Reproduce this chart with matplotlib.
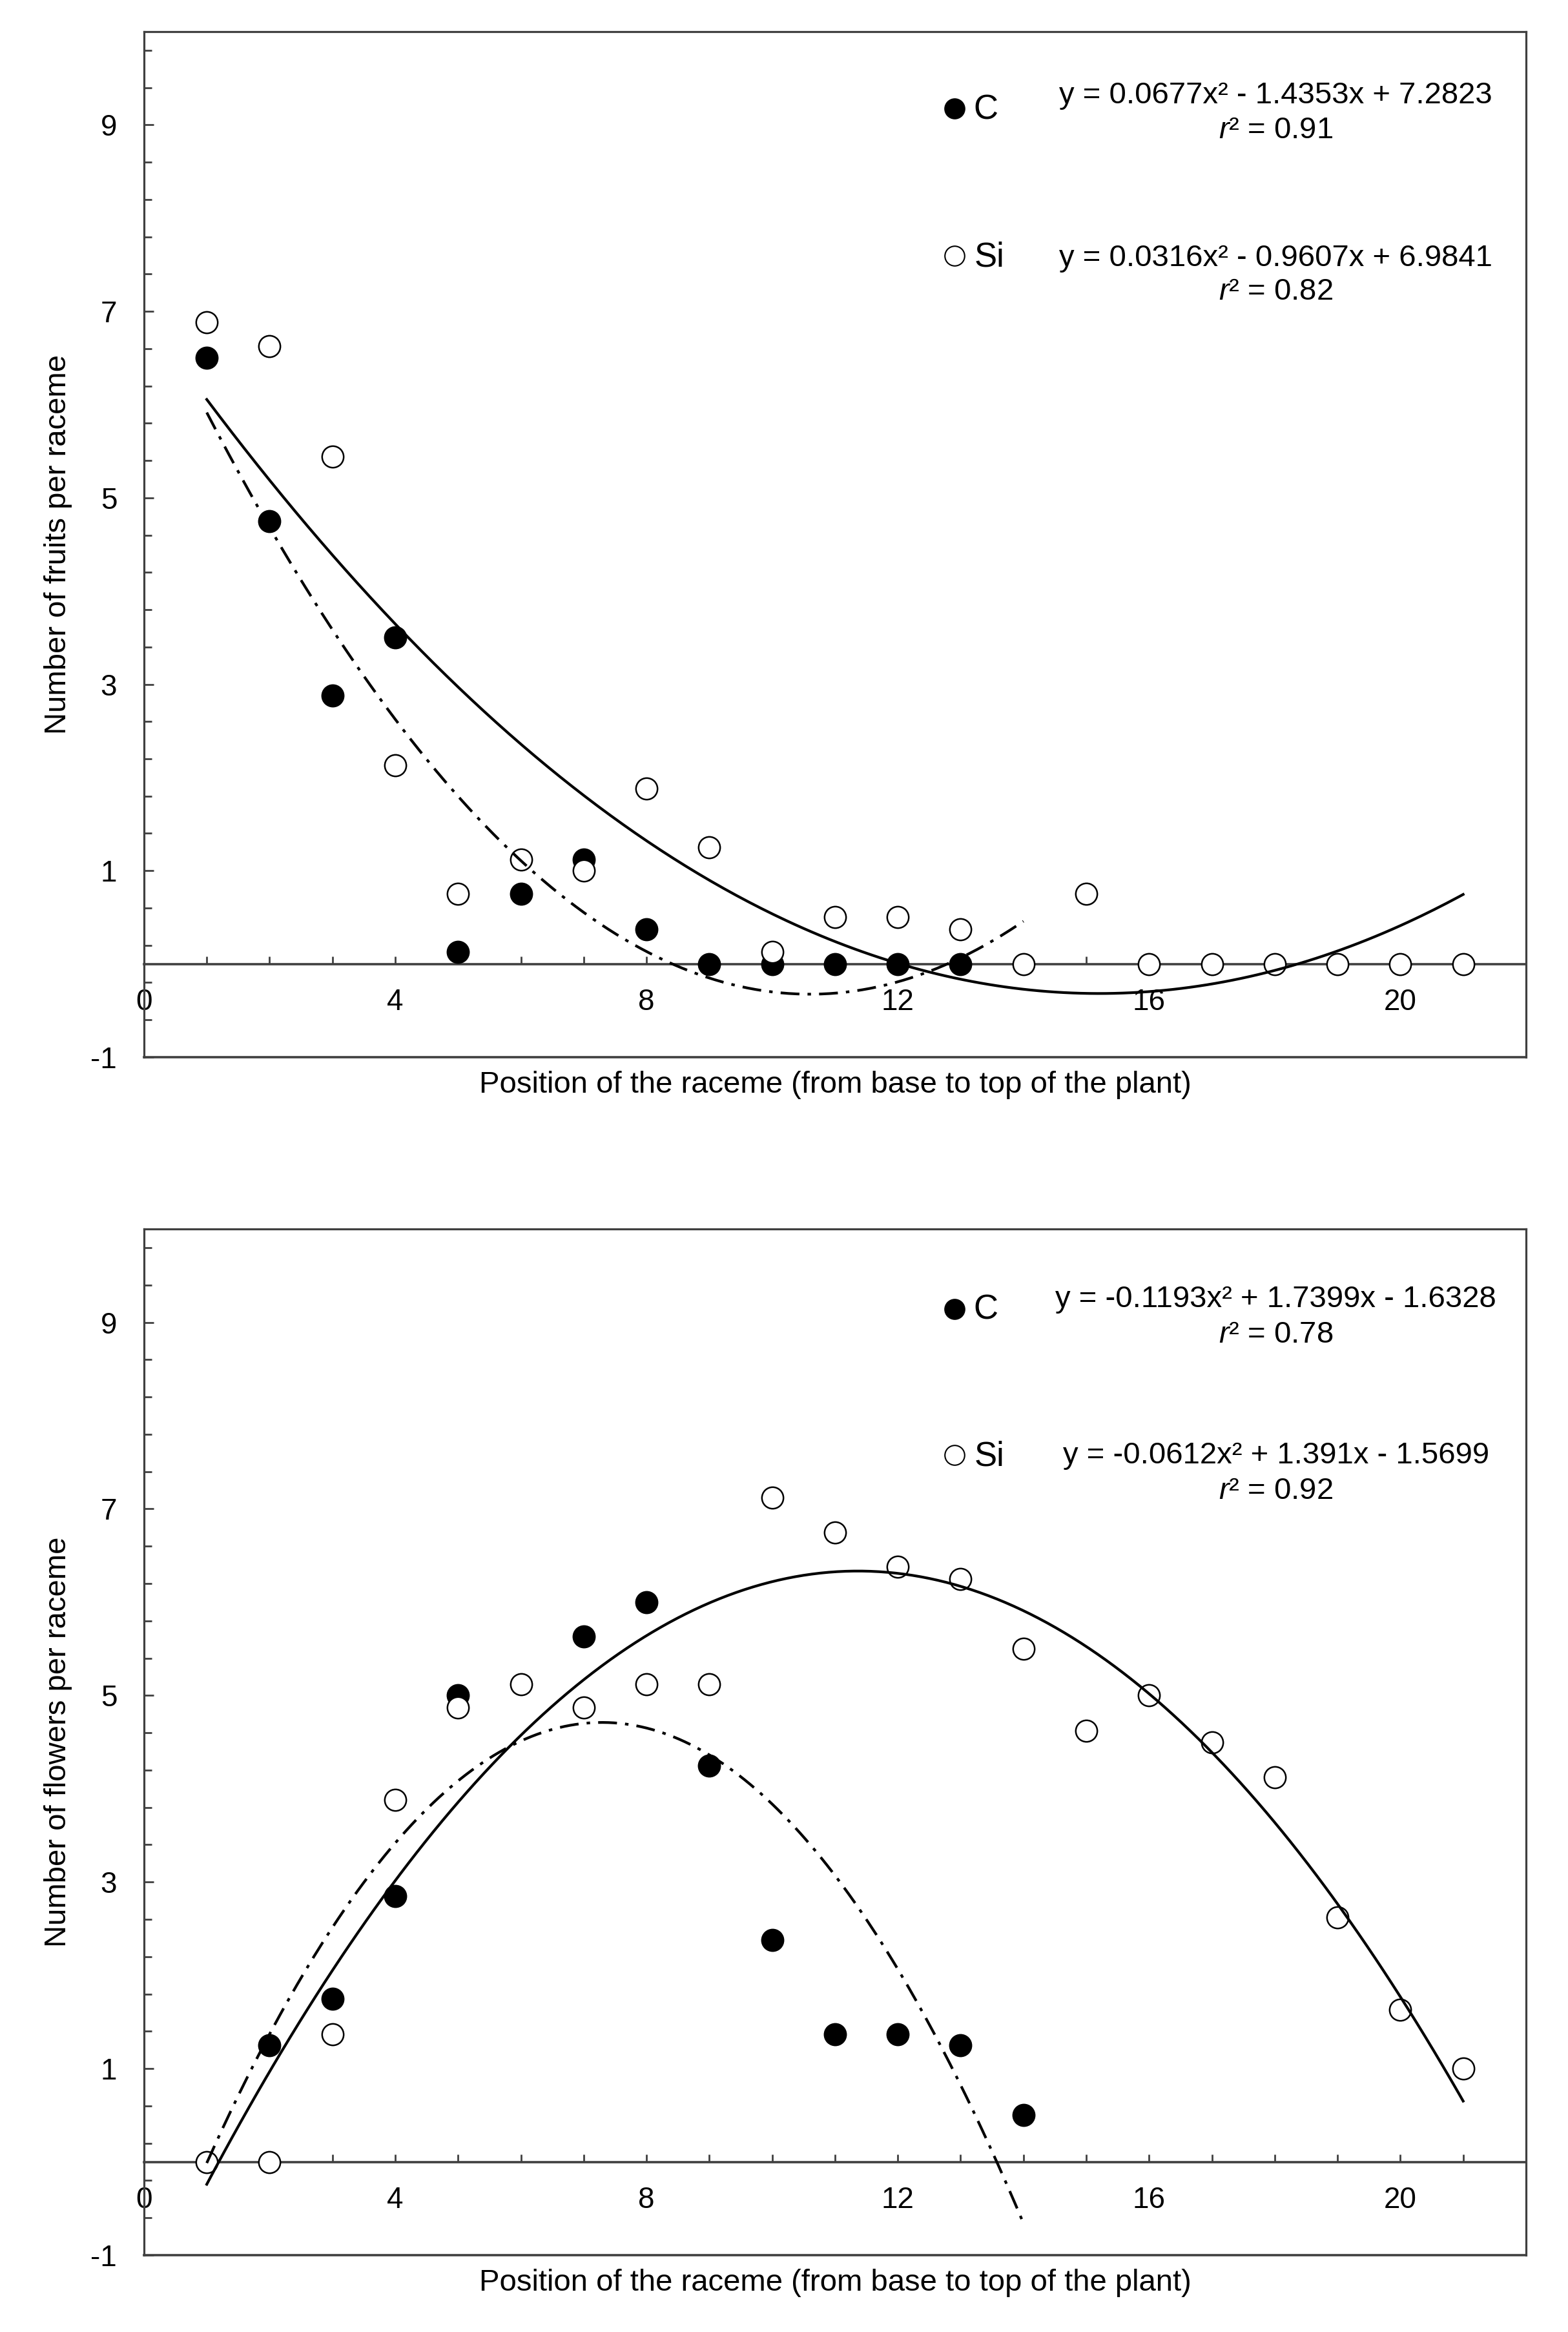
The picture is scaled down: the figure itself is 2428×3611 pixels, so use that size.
import numpy as np
import matplotlib
matplotlib.use("Agg")
import matplotlib.pyplot as plt
from matplotlib.ticker import FixedLocator, NullFormatter

plt.rcParams['font.family'] = ['Liberation Sans', 'DejaVu Sans']
plt.rcParams['mathtext.fontset'] = 'custom'
plt.rcParams['mathtext.rm'] = 'Liberation Sans'
plt.rcParams['mathtext.it'] = 'Liberation Sans:italic'
plt.rcParams['axes.unicode_minus'] = False

# ---------------- data ----------------
# Panel A: number of fruits per raceme
fruits_c_x = [1, 2, 3, 4, 5, 6, 7, 8, 9, 10, 11, 12, 13]
fruits_c_y = [6.5, 4.75, 2.88, 3.5, 0.13, 0.75, 1.12, 0.37, 0, 0, 0, 0, 0]
fruits_si_x = list(range(1, 22))
fruits_si_y = [6.88, 6.63, 5.44, 2.13, 0.75, 1.12, 1.0, 1.88, 1.25, 0.13,
               0.5, 0.5, 0.37, 0, 0.75, 0, 0, 0, 0, 0, 0]
fruits_c_coef = [0.0677, -1.4353, 7.2823]
fruits_si_coef = [0.0316, -0.9607, 6.9841]
fruits_c_eq = ["y = 0.0677x\u00b2 - 1.4353x + 7.2823", "$r$\u00b2 = 0.91"]
fruits_si_eq = ["y = 0.0316x\u00b2 - 0.9607x + 6.9841", "$r$\u00b2 = 0.82"]

# Panel B: number of flowers per raceme
flowers_c_x = [2, 3, 4, 5, 7, 8, 9, 10, 11, 12, 13, 14]
flowers_c_y = [1.25, 1.75, 2.85, 5.0, 5.63, 6.0, 4.25, 2.38, 1.37, 1.37, 1.25, 0.5]
flowers_si_x = list(range(1, 22))
flowers_si_y = [0, 0, 1.37, 3.88, 4.87, 5.12, 4.87, 5.12, 5.12, 7.12,
                6.75, 6.38, 6.25, 5.5, 4.62, 5.0, 4.5, 4.12, 2.62, 1.63, 1.0]
flowers_c_coef = [-0.1193, 1.7399, -1.6328]
flowers_si_coef = [-0.0612, 1.391, -1.5699]
flowers_c_eq = ["y = -0.1193x\u00b2 + 1.7399x - 1.6328", "$r$\u00b2 = 0.78"]
flowers_si_eq = ["y = -0.0612x\u00b2 + 1.391x - 1.5699", "$r$\u00b2 = 0.92"]

c_fit_range = (1, 14)
si_fit_range = (1, 21)

x_label = "Position of the raceme (from base to top of the plant)"
y_labels = ["Number of fruits per raceme", "Number of flowers per raceme"]
y_major = [-1, 1, 3, 5, 7, 9]
x_major = [0, 4, 8, 12, 16, 20]

# ---------------- style ----------------
FS = 33
EQ_FS = 34
SPINE = '#404040'
SPINE_LW = 2.3
MS = 24
fig = plt.figure(figsize=(24.28, 36.11), dpi=100)

axA = fig.add_axes([0.0918, 0.5467, 0.8814, 0.4397])
axB = fig.add_axes([0.0918, 0.03295, 0.8814, 0.4400])

panels = [
    (axA, fruits_c_x, fruits_c_y, fruits_si_x, fruits_si_y, fruits_c_coef, fruits_si_coef,
     fruits_c_eq, fruits_si_eq, y_labels[0],
     dict(c1=0.9301, c2=0.8961, s1=0.7714, s2=0.7387, cm=0.925, ct=0.915, sm=0.7815, st=0.7714)),
    (axB, flowers_c_x, flowers_c_y, flowers_si_x, flowers_si_y, flowers_c_coef, flowers_si_coef,
     flowers_c_eq, flowers_si_eq, y_labels[1],
     dict(c1=0.9239, c2=0.8892, s1=0.7716, s2=0.7369, cm=0.922, ct=0.912, sm=0.7797, st=0.7694)),
]

for ax, cx, cy, sx, sy, ccoef, scoef, ceq, seq, ylab, pos in panels:
    ax.set_xlim(0, 22)
    ax.set_ylim(-1, 10)

    # spines: move bottom axis to y = 0, keep the frame with a line at y = -1
    ax.spines['bottom'].set_position(('data', 0))
    for s in ax.spines.values():
        s.set_color(SPINE)
        s.set_linewidth(SPINE_LW)
    ax.spines['bottom'].set_linewidth(SPINE_LW + 0.3)
    ax.axhline(-1, color=SPINE, lw=SPINE_LW + 0.3, clip_on=False, zorder=2.5)

    ax.xaxis.set_major_locator(FixedLocator(x_major))
    ax.xaxis.set_minor_locator(FixedLocator(range(0, 23)))
    ax.yaxis.set_major_locator(FixedLocator(y_major))
    ax.yaxis.set_minor_locator(FixedLocator(np.round(np.arange(-1, 10.01, 0.4), 2)))
    ax.yaxis.set_minor_formatter(NullFormatter())
    ax.xaxis.set_minor_formatter(NullFormatter())
    ax.tick_params(axis='x', which='both', direction='in', length=9, width=2,
                   color=SPINE, labelsize=FS, pad=27, top=False)
    ax.tick_params(axis='y', which='major', direction='in', length=11, width=2,
                   color=SPINE, labelsize=FS, pad=30, right=False)
    ax.tick_params(axis='y', which='minor', direction='in', length=8.5, width=2,
                   color=SPINE, right=False)

    # data points
    ax.plot(cx, cy, linestyle='none', marker='o', ms=MS, mfc='black', mec='black',
            mew=1.8, zorder=3, clip_on=False)
    ax.plot(sx, sy, linestyle='none', marker='o', ms=MS, mfc='white', mec='black',
            mew=1.8, zorder=3.5, clip_on=False)

    # trend lines from the printed equations
    xc = np.linspace(c_fit_range[0], c_fit_range[1], 300)
    xs = np.linspace(si_fit_range[0], si_fit_range[1], 300)
    ax.plot(xc, np.polyval(ccoef, xc), color='black', lw=3.0,
            linestyle=(0, (7, 3, 1.3, 3)), zorder=4)
    ax.plot(xs, np.polyval(scoef, xs), color='black', lw=3.0, linestyle='-', zorder=4)

    # legend-like labels and equations
    ax.plot([0.5864], [pos['cm']], transform=ax.transAxes, marker='o', ms=22,
            mfc='black', mec='black', mew=1.5, linestyle='none', clip_on=False)
    ax.text(0.6000, pos['ct'], "C", transform=ax.transAxes, fontsize=FS + 5,
            ha='left', va='baseline')
    ax.plot([0.5864], [pos['sm']], transform=ax.transAxes, marker='o', ms=22,
            mfc='white', mec='black', mew=1.5, linestyle='none', clip_on=False)
    ax.text(0.6010, pos['st'], "Si", transform=ax.transAxes, fontsize=FS + 5,
            ha='left', va='baseline')

    ax.text(0.819, pos['c1'], ceq[0], transform=ax.transAxes, fontsize=EQ_FS,
            ha='center', va='baseline')
    ax.text(0.819, pos['c2'], ceq[1], transform=ax.transAxes, fontsize=EQ_FS,
            ha='center', va='baseline')
    ax.text(0.819, pos['s1'], seq[0], transform=ax.transAxes, fontsize=EQ_FS,
            ha='center', va='baseline')
    ax.text(0.819, pos['s2'], seq[1], transform=ax.transAxes, fontsize=EQ_FS,
            ha='center', va='baseline')

    # axis titles
    ax.text(0.5, -0.027, x_label, transform=ax.transAxes, fontsize=FS + 1,
            ha='center', va='center')
    ax.text(-0.0621, 0.5, ylab, transform=ax.transAxes, fontsize=FS + 1,
            ha='center', va='center', rotation=90)

fig.savefig("out.png", dpi=100, facecolor='white')
